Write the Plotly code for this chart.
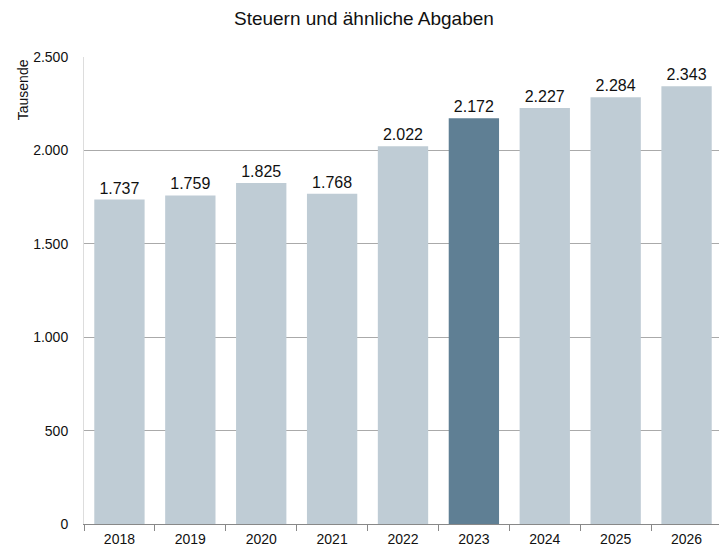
import plotly.graph_objects as go

years = ["2018", "2019", "2020", "2021", "2022", "2023", "2024", "2025", "2026"]
values = [1737, 1759, 1825, 1768, 2022, 2172, 2227, 2284, 2343]
labels = ["1.737", "1.759", "1.825", "1.768", "2.022", "2.172", "2.227", "2.284", "2.343"]
highlight = "2023"
ytick_vals = [0, 500, 1000, 1500, 2000, 2500]
ytick_text = ["0", "500", "1.000", "1.500", "2.000", "2.500"]

FONT = "Liberation Sans, Arial, sans-serif"
colors = ["#5f7f94" if y == highlight else "#bfccd5" for y in years]

# page body has an 8px margin, so the figure is shrunk by that amount
W, H = 727 - 8, 547 - 8

fig = go.Figure(go.Bar(
    x=years, y=values, marker_color=colors, marker_line_width=0,
    text=labels, textposition="outside", cliponaxis=False,
    textfont=dict(family=FONT, size=16, color="#111111"),
))

fig.update_layout(
    width=W, height=H,
    margin=dict(l=76, r=5, t=49, b=23, pad=0),
    paper_bgcolor="white", plot_bgcolor="white",
    bargap=0.29,
    showlegend=False,
    font=dict(family=FONT, size=14, color="#111111"),
    title=dict(text="Steuern und ähnliche Abgaben", x=0.495, xref="container", xanchor="center",
               y=1 - 10 / H, yref="container", yanchor="middle",
               font=dict(family=FONT, size=19, color="#111111")),
    xaxis=dict(showline=True, linecolor="#888888", linewidth=1, automargin=False,
               ticks="outside", tickson="boundaries", ticklen=6, tickcolor="#888888",
               ticklabelstandoff=2,
               tickfont=dict(family=FONT, size=14, color="#111111")),
    yaxis=dict(range=[0, 2500], tickvals=ytick_vals, ticktext=ytick_text,
               showgrid=True, gridcolor="#aaaaaa", gridwidth=1, automargin=False,
               showline=True, linecolor="#dddddd", zeroline=False,
               ticks="", ticklabelstandoff=12,
               tickfont=dict(family=FONT, size=14, color="#111111")),
    annotations=[dict(text="Tausende", textangle=-90, xref="paper", yref="paper",
                      x=-0.096, y=1.0, xanchor="center", yanchor="top", showarrow=False,
                      font=dict(family=FONT, size=14, color="#111111"))],
)

fig.write_html("out.html")
